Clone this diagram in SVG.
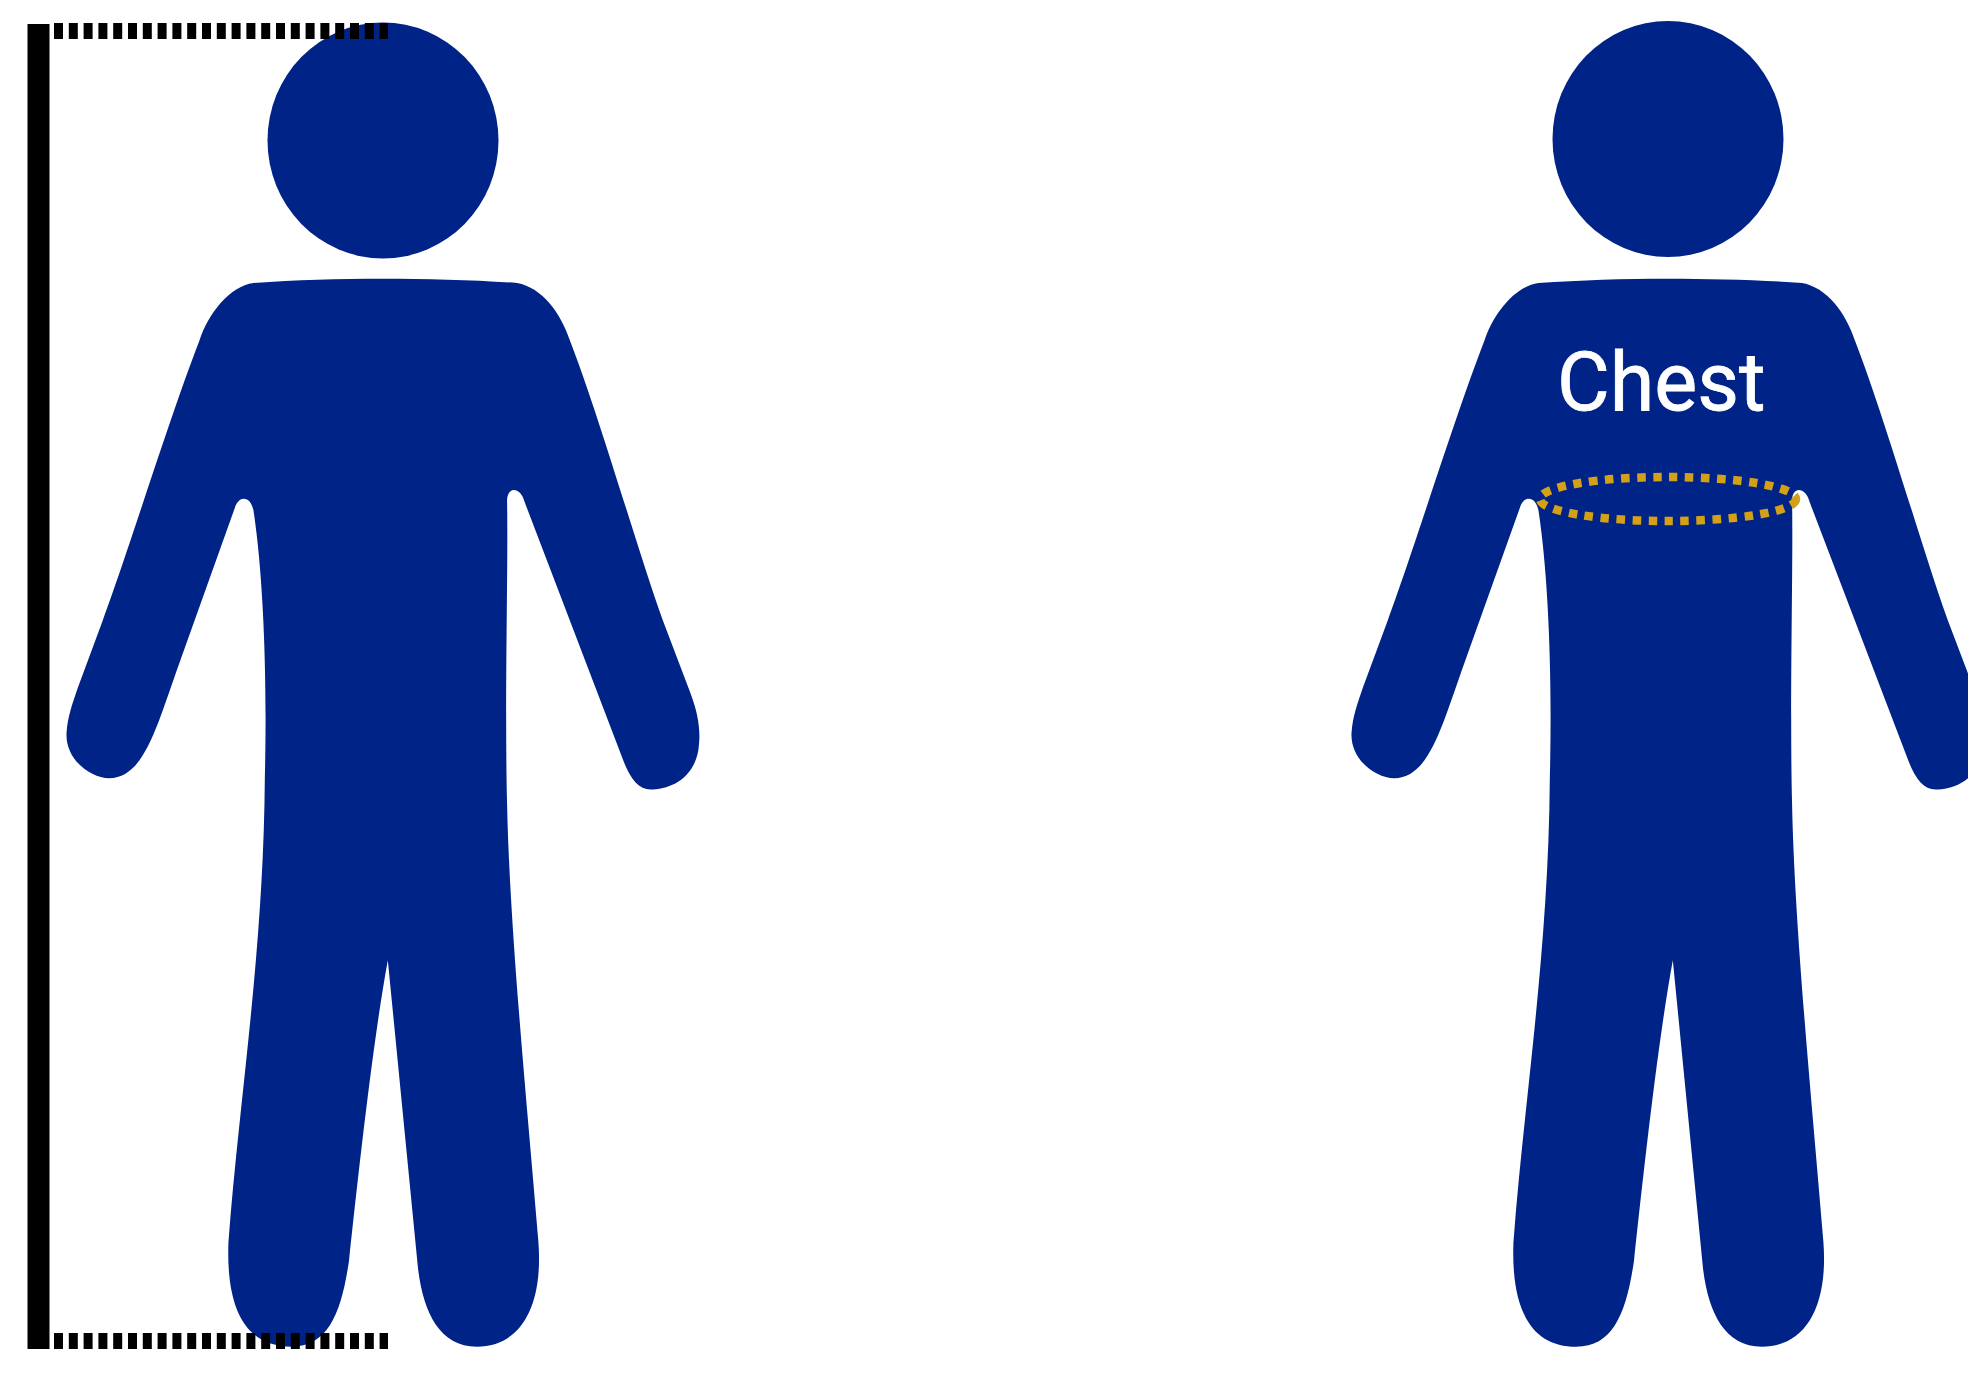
<svg xmlns="http://www.w3.org/2000/svg" width="1968" height="1373" viewBox="0 0 1968 1373">
<style>
.fig{fill:#002387}
.dash{fill:none;stroke:#000;stroke-width:16;stroke-dasharray:9 5.8}
.chest{fill:none;stroke:#d3a017;stroke-width:8.500;stroke-dasharray:8.500 7.500}
.label{font-family:Roboto,"Liberation Sans",sans-serif;font-size:81px;fill:#fff;stroke:#fff;stroke-width:.8}
</style>
<defs>
<path id="body" d="M305,222 C340,222 380,223 412,225.500 C432,229 447,250 454,271 C478,333 506,432 528,494 L550,552 C556,568 558,580 557,592 C556,615 540,628 520,629 C510,630 503,622 497,607 L418,400 C415,388 404,387 404,399 C405,450 402,560 404,640 C406,740 420,880 429,990 C433,1045 412,1073 380,1073 C350,1073 337,1045 333,1010 L309,765 C297,830 285,940 278,1005 C272,1045 262,1073 232,1073 C197,1073 180,1045 182,990 C190,880 210,760 211,620 C213,540 210,460 202,407 C200,395 190,394 187,405 L143,528 C125,578 115,620 87,620 C72,620 52,605 53,584 C54,570 58,560 62,548 L82,494 C102,440 135,333 159,271 C166,250 183,228 202,225.500 C235,223 270,222 305,222 Z"/>
</defs>
<rect width="1968" height="1373" fill="#fff"/>
<g id="figure-left">
<ellipse class="fig" cx="383" cy="140.500" rx="115.500" ry="118"/>
<use href="#body" class="fig" transform="scale(1.2551)"/>
</g>
<g id="figure-right">
<ellipse class="fig" cx="1668" cy="139" rx="115.500" ry="118"/>
<use href="#body" class="fig" transform="translate(1285 0) scale(1.2551)"/>
<text class="label" x="1557" y="410">Chest</text>
<ellipse class="chest" cx="1668" cy="499" rx="128" ry="22"/>
</g>
<g id="connectors">
<rect x="27.500" y="24" width="22" height="1325" fill="#000"/>
<path class="dash" d="M54,31 H388"/>
<path class="dash" d="M54,1341 H388"/>
</g>
</svg>
